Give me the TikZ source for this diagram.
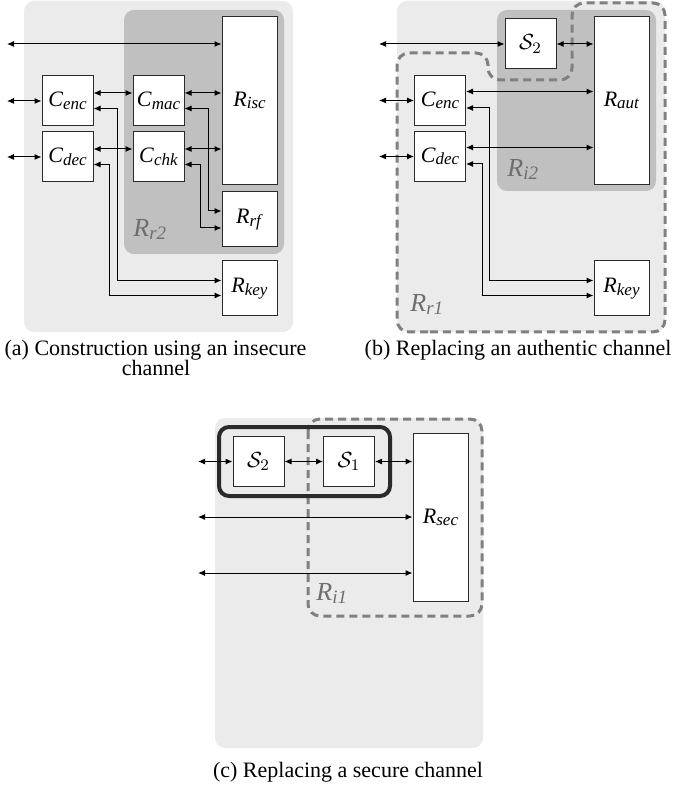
\documentclass[tikz,border=0pt]{standalone}
\usepackage{fontspec}
\setmainfont{Liberation Serif}
\usetikzlibrary{arrows.meta,calc}
\definecolor{bgl}{HTML}{EBEBEB}
\definecolor{bgd}{HTML}{C0C0C0}
\definecolor{lblg}{HTML}{6E6E6E}
\definecolor{dashg}{HTML}{808080}
\definecolor{boxd}{HTML}{2A2A2A}
\newcommand\lb[2]{\textit{#1}\raisebox{-1.3pt}{\fontsize{8.5}{8.5}\selectfont\textit{#2}}}
\newcommand\rlb[2]{\textit{#1}\raisebox{-1.5pt}{\fontsize{9.5}{9.5}\selectfont\textit{#2}}}
\begin{document}
\begin{tikzpicture}[x=0.5pt,y=-0.5pt,
 blk/.style={draw=boxd, line width=0.5pt, fill=white, inner sep=0pt, font=\fontsize{11}{11}\selectfont},
 bx/.style={blk, minimum width=25.5pt, minimum height=25pt},
 tall/.style={blk, minimum width=27.5pt, minimum height=84pt},
 sq/.style={blk, minimum width=27.5pt, minimum height=27.5pt},
 arr/.style={{Latex[length=3.5pt,width=3pt]}-{Latex[length=3.5pt,width=3pt]}, line width=0.5pt},
 lightbg/.style={fill=bgl, rounded corners=5pt},
 darkbg/.style={fill=bgd, rounded corners=5pt},
 regl/.style={text=lblg, font=\fontsize{13}{13}\selectfont, anchor=base west, inner sep=0pt},
 dashreg/.style={draw=dashg, line width=1.5pt, dash pattern=on 4pt off 2.5pt, rounded corners=6pt},
 thickbox/.style={draw=boxd, line width=2pt, rounded corners=5pt},
 captxt/.style={font=\fontsize{11}{11}\selectfont, anchor=base, inner sep=0pt}
]
\useasboundingbox (0,0) rectangle (674,790);

% ---------------- Panel (a)
\fill[lightbg] (24,1) rectangle (293,332);
\fill[darkbg] (124,10) rectangle (284,254);
\node[tall] (Risc) at (249.5,100.5) {\lb{R}{isc}};
\node[sq] (Rrf) at (249.5,219.5) {\lb{R}{rf}};
\node[sq] (Rkeya) at (249.5,288.5) {\lb{R}{key}};
\node[bx] (Cenca) at (67.5,101) {\lb{C}{enc}};
\node[bx] (Cdeca) at (67.5,157) {\lb{C}{dec}};
\node[bx] (Cmac) at (158.5,101) {\lb{C}{mac}};
\node[bx] (Cchk) at (158.5,157) {\lb{C}{chk}};
\node[regl] (lr2) at (133,237) {\rlb{R}{r2}};
\coordinate (aL1) at (7,44);
\coordinate (aL2) at (7,101);
\coordinate (aL3) at (7,157);
\draw[arr] (aL1) -- (aL1 -| Risc.west);
\draw[arr] (aL2) -- (Cenca.west);
\draw[arr] (aL3) -- (Cdeca.west);
\draw[arr] ([yshift=4pt]Cenca.east) -- ([yshift=4pt]Cmac.west);
\draw[arr] ([yshift=4pt]Cdeca.east) -- ([yshift=4pt]Cchk.west);
\draw[arr] ([yshift=4pt]Cmac.east) -- ([yshift=4pt]Cmac.east -| Risc.west);
\draw[arr] ([yshift=4pt]Cchk.east) -- ([yshift=4pt]Cchk.east -| Risc.west);
\draw[arr] ([yshift=-3.75pt]Cmac.east) -- ++(12pt,0) |- ([yshift=4.25pt]Rrf.west);
\draw[arr] ([yshift=-3.75pt]Cchk.east) -- ++(8pt,0) |- ([yshift=-4.25pt]Rrf.west);
\draw[arr] ([yshift=-3.75pt]Cenca.east) -- ++(12pt,0) |- ([yshift=4pt]Rkeya.west);
\draw[arr] ([yshift=-3.75pt]Cdeca.east) -- ++(8pt,0) |- ([yshift=-3.5pt]Rkeya.west);

% ---------------- Panel (b)
\fill[lightbg] (397,1) rectangle (665,332);
\fill[darkbg] (497,10) rectangle (656,191);
\draw[dashreg] (440,332) -- (397,332) -- (397,53) -- (488,53) -- (488,80) -- (572,80) -- (572,3) -- (665,3) -- (665,332) -- cycle;
\node[tall] (Raut) at (621.5,100.5) {\lb{R}{aut}};
\node[bx] (S2b) at (530.5,44) {$\mathcal{S}_2$};
\node[bx] (Cencb) at (440,100.5) {\lb{C}{enc}};
\node[bx] (Cdecb) at (440,156.5) {\lb{C}{dec}};
\node[sq] (Rkeyb) at (621.5,288.5) {\lb{R}{key}};
\node[regl] (li2) at (507,177) {\rlb{R}{i2}};
\node[regl] (lr1) at (410,312) {\rlb{R}{r1}};
\coordinate (bL1) at (379,44);
\coordinate (bL2) at (379,100.5);
\coordinate (bL3) at (379,156.5);
\draw[arr] (bL1) -- (S2b.west);
\draw[arr] (S2b.east) -- (S2b.east -| Raut.west);
\draw[arr] (bL2) -- (Cencb.west);
\draw[arr] (bL3) -- (Cdecb.west);
\draw[arr] ([yshift=4.5pt]Cencb.east) -- ([yshift=4.5pt]Cencb.east -| Raut.west);
\draw[arr] ([yshift=4.5pt]Cdecb.east) -- ([yshift=4.5pt]Cdecb.east -| Raut.west);
\draw[arr] ([yshift=-3.75pt]Cencb.east) -- ++(11.5pt,0) |- ([yshift=4pt]Rkeyb.west);
\draw[arr] ([yshift=-3.75pt]Cdecb.east) -- ++(8pt,0) |- ([yshift=-3.5pt]Rkeyb.west);

% ---------------- Panel (c)
\fill[lightbg] (215,418) rectangle (483,748);
\draw[dashreg] (308,419) rectangle (482,616);
\draw[thickbox] (219,427) rectangle (390,496);
\node[bx] (S2c) at (258.5,461.5) {$\mathcal{S}_2$};
\node[bx] (S1c) at (349,461.5) {$\mathcal{S}_1$};
\node[tall] (Rsec) at (440.5,517.5) {\lb{R}{sec}};
\node[regl] (li1) at (316,600) {\rlb{R}{i1}};
\coordinate (cL1) at (198,461.5);
\coordinate (cL2) at (198,517);
\coordinate (cL3) at (198,573);
\draw[arr] (cL1) -- (S2c.west);
\draw[arr] (S2c.east) -- (S1c.west);
\draw[arr] (S1c.east) -- (S1c.east -| Rsec.west);
\draw[arr] (cL2) -- (cL2 -| Rsec.west);
\draw[arr] (cL3) -- (cL3 -| Rsec.west);

% ---------------- Captions
\node[captxt] (capa1) at (155.5,356) {(a) Construction using an insecure};
\node[captxt] (capa2) at (156,375) {channel};
\node[captxt] (capb) at (518,356) {(b) Replacing an authentic channel};
\node[captxt] (capc) at (348,777) {(c) Replacing a secure channel};
\end{tikzpicture}
\end{document}
